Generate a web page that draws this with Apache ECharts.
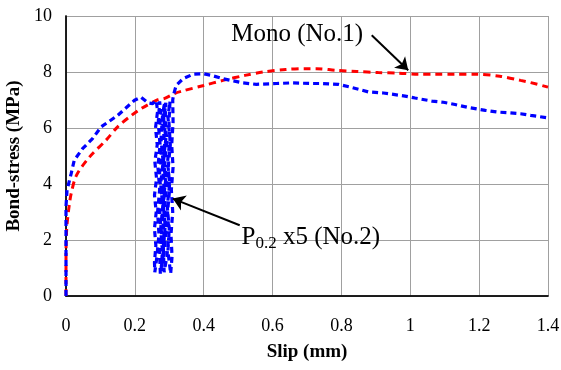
<!DOCTYPE html>
<html>
<head>
<meta charset="utf-8">
<script src="https://cdn.jsdelivr.net/npm/echarts@6/dist/echarts.min.js"></script>
<style>
  html, body { margin: 0; padding: 0; background: #fff; }
  #chart { width: 561px; height: 370px; }
</style>
</head>
<body>
<div id="chart"></div>
<script>
// Mono (No.1) - slip (mm) / bond stress (MPa)
var monoSlip = [0, 0, 0.002, 0.005, 0.01, 0.015, 0.03, 0.068, 0.116, 0.15, 0.19, 0.218, 0.267, 0.285, 0.315, 0.335, 0.40, 0.456, 0.52, 0.572, 0.638, 0.699, 0.728, 0.784, 0.844, 0.907, 0.965, 1.024, 1.072, 1.13, 1.19, 1.26, 1.32, 1.35, 1.40];
var monoStress = [0, 1.5, 2.4, 2.8, 3.3, 3.66, 4.3, 4.96, 5.56, 6.04, 6.45, 6.69, 7.01, 7.05, 7.23, 7.31, 7.52, 7.70, 7.88, 8.0, 8.09, 8.12, 8.12, 8.06, 8.02, 7.98, 7.96, 7.92, 7.92, 7.92, 7.92, 7.85, 7.7, 7.62, 7.46];

// P0.2 x5 (No.2): envelope, 5 unload/reload cycles, then post-peak
var cycSlip = [0, 0, 0, 0, 0.003, 0.015, 0.024, 0.048, 0.077, 0.102, 0.15, 0.199, 0.218, 0.238, 0.252, 0.262,
  0.266, 0.26, 0.265, 0.258, 0.263, 0.257, 0.262, 0.257, 0.261, 0.257, 0.258,
  0.264, 0.27, 0.266, 0.272, 0.267, 0.273, 0.268, 0.272,
  0.276, 0.27, 0.277, 0.271, 0.278, 0.272, 0.278, 0.272, 0.274,
  0.28, 0.285, 0.28, 0.286, 0.281, 0.287, 0.282, 0.286,
  0.28, 0.276, 0.282, 0.275, 0.281, 0.275, 0.28, 0.276,
  0.284, 0.29, 0.286, 0.292, 0.287, 0.293, 0.288, 0.29,
  0.284, 0.29, 0.283, 0.289, 0.282, 0.288, 0.283, 0.285,
  0.293, 0.299, 0.295, 0.301, 0.297, 0.303, 0.299, 0.302,
  0.296, 0.302, 0.295, 0.301, 0.294, 0.30, 0.296, 0.304,
  0.308, 0.305, 0.31, 0.306, 0.311, 0.307, 0.311, 0.31, 0.312,
  0.32, 0.34, 0.369, 0.398, 0.422, 0.456, 0.514, 0.553, 0.611, 0.655, 0.708, 0.737, 0.791, 0.825, 0.878, 0.922, 0.951, 0.985, 1.014, 1.063, 1.096, 1.13, 1.169, 1.218, 1.252, 1.29, 1.32, 1.35, 1.40];
var cycStress = [0, 1, 2.5, 3.2, 3.78, 4.37, 4.85, 5.26, 5.62, 6.04, 6.45, 6.99, 7.1, 6.9, 6.87, 6.99,
  6.6, 6.0, 5.4, 4.8, 4.2, 3.6, 3.0, 2.4, 1.8, 1.2, 0.85,
  1.4, 2.2, 3.0, 3.8, 4.6, 5.4, 6.2, 6.95,
  6.5, 5.8, 5.0, 4.3, 3.6, 2.9, 2.2, 1.5, 0.8,
  1.3, 2.1, 2.9, 3.7, 4.5, 5.3, 6.1, 6.9,
  6.4, 5.6, 4.8, 4.0, 3.2, 2.4, 1.6, 0.9,
  1.5, 2.3, 3.1, 3.9, 4.7, 5.5, 6.3, 6.9,
  6.3, 5.6, 4.9, 4.1, 3.3, 2.5, 1.7, 0.85,
  1.4, 2.2, 3.0, 3.8, 4.6, 5.4, 6.2, 6.95,
  6.4, 5.6, 4.8, 4.0, 3.2, 2.4, 1.6, 0.8,
  1.4, 2.2, 3.0, 3.8, 4.6, 5.4, 6.2, 7.0, 7.17,
  7.52, 7.76, 7.92, 7.94, 7.88, 7.76, 7.61, 7.56, 7.59, 7.61, 7.59, 7.59, 7.56, 7.46, 7.29, 7.25, 7.2, 7.14, 7.07, 6.96, 6.92, 6.84, 6.73, 6.63, 6.57, 6.54, 6.51, 6.45, 6.36];

var xTicks = [0, 0.2, 0.4, 0.6, 0.8, 1, 1.2, 1.4];
var yTicks = [0, 2, 4, 6, 8, 10];

function pairs(xs, ys) {
  return xs.map(function (x, i) { return [x, ys[i]]; });
}

var serif = '"Liberation Serif", "Times New Roman", serif';
var chart = echarts.init(document.getElementById('chart'));

var xMin = xTicks[0], xMax = xTicks[xTicks.length - 1];
var yMin = yTicks[0], yMax = yTicks[yTicks.length - 1];

var option = {
  animation: false,
  grid: { left: 66, right: 13, top: 16, bottom: 74, outerBoundsMode: 'none', containLabel: false },
  xAxis: [{
    type: 'value',
    min: xMin, max: xMax, interval: 0.2,
    name: 'Slip (mm)', nameLocation: 'middle', nameGap: 47,
    nameTextStyle: { fontFamily: serif, fontWeight: 'bold', fontSize: 19, color: '#000' },
    axisLine: { lineStyle: { color: '#595959', width: 1.5 } },
    axisTick: { show: false },
    axisLabel: { fontFamily: serif, fontSize: 18, color: '#000', margin: 21 },
    splitLine: { lineStyle: { color: '#a0a0a0', width: 1 } }
  }, {
    // top frame
    type: 'value', position: 'top',
    min: xMin, max: xMax, interval: 0.2,
    axisLine: { show: true, lineStyle: { color: '#000', width: 1.5 } },
    axisTick: { show: false }, axisLabel: { show: false }, splitLine: { show: false }
  }],
  yAxis: [{
    type: 'value',
    min: yMin, max: yMax, interval: 2,
    name: 'Bond-stress (MPa)', nameLocation: 'middle', nameGap: 40,
    nameTextStyle: { fontFamily: serif, fontWeight: 'bold', fontSize: 19, color: '#000' },
    axisLine: { show: true, lineStyle: { color: '#595959', width: 1.5 } },
    axisTick: { show: false },
    axisLabel: { fontFamily: serif, fontSize: 18, color: '#000', margin: 14 },
    splitLine: { lineStyle: { color: '#a0a0a0', width: 1 } }
  }, {
    // right frame
    type: 'value', position: 'right',
    min: yMin, max: yMax, interval: 2,
    axisLine: { show: true, lineStyle: { color: '#000', width: 1.5 } },
    axisTick: { show: false }, axisLabel: { show: false }, splitLine: { show: false }
  }],
  series: [
    {
      name: 'Mono (No.1)',
      type: 'line',
      data: pairs(monoSlip, monoStress),
      showSymbol: false,
      smooth: 0.3,
      lineStyle: { color: '#ff0000', width: 3, type: [7, 5] },
      z: 2,
      markLine: {
        silent: true,
        symbol: ['none', 'arrow'],
        symbolSize: 12,
        lineStyle: { color: '#000', width: 2, type: 'solid' },
        label: { show: false },
        data: [[{ coord: [0.888, 9.31] }, { coord: [0.994, 8.06] }]]
      },
      markPoint: {
        symbol: 'circle', symbolSize: 0,
        label: { show: true, position: 'right', distance: 0, fontFamily: serif, fontSize: 25, color: '#000', formatter: 'Mono (No.1)' },
        data: [{ coord: [0.48, 9.35] }]
      }
    },
    {
      name: 'P0.2 x5 (No.2)',
      type: 'line',
      data: pairs(cycSlip, cycStress),
      showSymbol: false,
      lineStyle: { color: '#0000ff', width: 3.2, type: [6, 4] },
      z: 3,
      markLine: {
        silent: true,
        symbol: ['none', 'arrow'],
        symbolSize: 12,
        lineStyle: { color: '#000', width: 2, type: 'solid' },
        label: { show: false },
        data: [[{ coord: [0.5045, 2.525] }, { coord: [0.31, 3.48] }]]
      },
      markPoint: {
        symbol: 'circle', symbolSize: 0,
        label: {
          show: true, position: 'right', distance: 0,
          formatter: '{a|P}{s|0.2}{a| x5 (No.2)}',
          rich: {
            a: { fontFamily: serif, fontSize: 25, color: '#000' },
            s: { fontFamily: serif, fontSize: 17, color: '#000', padding: [12, 0, 0, 0] }
          }
        },
        data: [{ coord: [0.51, 2.1] }]
      }
    }
  ]
};

chart.setOption(option);
</script>
</body>
</html>
